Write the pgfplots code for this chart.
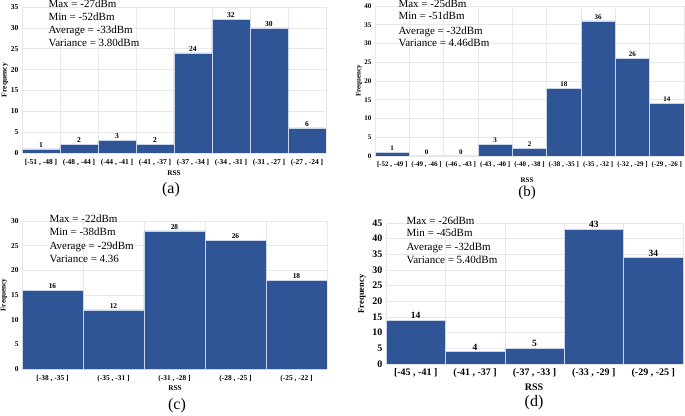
\documentclass[border=0pt]{standalone}
\usepackage{pgfplots}
\pgfplotsset{compat=1.18}
\usepackage{fontspec}
\setmainfont{Liberation Serif}
\definecolor{barblue}{RGB}{47,85,151}
\definecolor{barline}{RGB}{200,212,232}
\definecolor{gridc}{RGB}{232,232,232}
\pgfplotsset{
  panel/.style={
    ybar, bar width=1, scale only axis, anchor=south west,
    ymin=0, enlargelimits=false,
    axis line style={draw=gridc},
    ymajorgrids, xminorgrids,
    major grid style={draw=gridc, line width=0.6pt},
    minor grid style={draw=gridc, line width=0.6pt},
    major tick length=0pt, minor tick length=0pt,
    tick style={draw=none},
    xtick=data,
    /pgf/number format/assume math mode=true,
    nodes near coords,
  },
  barstyle/.style={fill=barblue, draw=barline, line width=0.5pt},
}
\begin{document}
\begin{tikzpicture}[x=1pt,y=1pt]
\path[use as bounding box] (0,0) rectangle (685,415);

% ---------------- (a)
\begin{axis}[panel, at={(22pt,262pt)}, width=304pt, height=146pt,
  xmin=-0.5, xmax=7.5, ymax=35, ytick={0,5,...,35},
  minor xtick={-0.5,0.5,...,7.5},
  xticklabels={{[-51 , -48 ]},{(-48 , -44 ]},{(-44 , -41 ]},{(-41 , -37 ]},{(-37 , -34 ]},{(-34 , -31 ]},{(-31 , -27 ]},{(-27 , -24 ]}},
  xticklabel style={font=\fontsize{7.5}{8}\selectfont\bfseries, yshift=-2.5pt},
  yticklabel style={font=\fontsize{7.5}{8}\selectfont\bfseries},
  every node near coord/.append style={font=\fontsize{7.5}{8}\selectfont\bfseries, inner sep=1.5pt},
]
\addplot[barstyle] coordinates {(0,1) (1,2) (2,3) (3,2) (4,24) (5,32) (6,30) (7,6)};
\end{axis}
\begin{scope}[font=\fontsize{11}{13}\selectfont]
\node[anchor=mid west] at (45,410) {Max = -27dBm};
\node[anchor=mid west] at (45,397) {Min = -52dBm};
\node[anchor=mid west] at (45,384) {Average = -33dBm};
\node[anchor=mid west] at (45,371) {Variance = 3.80dBm};
\end{scope}
\node[rotate=90, font=\fontsize{7.5}{8}\selectfont\bfseries] at (5,335) {Frequency};
\node[font=\fontsize{7.3}{8}\selectfont\bfseries] at (174,242) {RSS};
\node[font=\fontsize{16}{18}\selectfont] at (171,225) {(a)};

% ---------------- (b)
\begin{axis}[panel, at={(375pt,259pt)}, width=309pt, height=150pt,
  xmin=-0.5, xmax=8.5, ymax=40, ytick={0,5,...,40},
  minor xtick={-0.5,0.5,...,8.5},
  xticklabels={{[-52 , -49 ]},{(-49 , -46 ]},{(-46 , -43 ]},{(-43 , -40 ]},{(-40 , -38 ]},{(-38 , -35 ]},{(-35 , -32 ]},{(-32 , -29 ]},{(-29 , -26 ]}},
  xticklabel style={font=\fontsize{7}{8}\selectfont\bfseries, yshift=-2pt},
  yticklabel style={font=\fontsize{7}{8}\selectfont\bfseries},
  every node near coord/.append style={font=\fontsize{7}{8}\selectfont\bfseries, inner sep=1.5pt},
]
\addplot[barstyle] coordinates {(0,1) (1,0) (2,0) (3,3) (4,2) (5,18) (6,36) (7,26) (8,14)};
\end{axis}
\begin{scope}[font=\fontsize{11}{13}\selectfont]
\node[anchor=mid west] at (395,410) {Max = -25dBm};
\node[anchor=mid west] at (395,398) {Min = -51dBm};
\node[anchor=mid west] at (395,383) {Average = -32dBm};
\node[anchor=mid west] at (395,371) {Variance = 4.46dBm};
\end{scope}
\node[rotate=90, font=\fontsize{7}{8}\selectfont\bfseries] at (359,334) {Frequency};
\node[font=\fontsize{7}{8}\selectfont\bfseries, inner sep=0.5pt] at (527,234.5) {RSS};
\node[font=\fontsize{15}{16}\selectfont, inner sep=0pt] at (527,222) {(b)};

% ---------------- (c)
\begin{axis}[panel, at={(22pt,46pt)}, width=305pt, height=148pt,
  xmin=-0.5, xmax=4.5, ymax=30, ytick={0,5,...,30},
  minor xtick={-0.5,0.5,...,4.5},
  xticklabels={{[-38 , -35 ]},{(-35 , -31 ]},{(-31 , -28 ]},{(-28 , -25 ]},{(-25 , -22 ]}},
  xticklabel style={font=\fontsize{7.4}{8}\selectfont\bfseries, yshift=-3pt},
  yticklabel style={font=\fontsize{7.4}{8}\selectfont\bfseries},
  every node near coord/.append style={font=\fontsize{7.4}{8}\selectfont\bfseries, inner sep=1.5pt},
]
\addplot[barstyle] coordinates {(0,16) (1,12) (2,28) (3,26) (4,18)};
\end{axis}
\begin{scope}[font=\fontsize{11}{13}\selectfont]
\node[anchor=mid west] at (46,195) {Max = -22dBm};
\node[anchor=mid west] at (46,182) {Min = -38dBm};
\node[anchor=mid west] at (46,168) {Average = -29dBm};
\node[anchor=mid west] at (46,155) {Variance = 4.36};
\end{scope}
\node[rotate=90, font=\fontsize{7.3}{8}\selectfont\bfseries] at (4,120) {Frequency};
\node[font=\fontsize{7.3}{8}\selectfont\bfseries] at (175,27) {RSS};
\node[font=\fontsize{16}{18}\selectfont] at (177,9) {(c)};

% ---------------- (d)
\begin{axis}[panel, at={(386pt,51pt)}, width=297pt, height=141pt,
  xmin=-0.5, xmax=4.5, ymax=45, ytick={0,5,...,45},
  minor xtick={-0.5,0.5,...,4.5},
  xticklabels={{[-45 , -41 ]},{(-41 , -37 ]},{(-37 , -33 ]},{(-33 , -29 ]},{(-29 , -25 ]}},
  xticklabel style={font=\fontsize{10}{11}\selectfont\bfseries, yshift=-1.5pt},
  yticklabel style={font=\fontsize{10}{11}\selectfont\bfseries},
  every node near coord/.append style={font=\fontsize{9.5}{10}\selectfont\bfseries, inner sep=1pt},
]
\addplot[barstyle] coordinates {(0,14) (1,4) (2,5) (3,43) (4,34)};
\end{axis}
\begin{scope}[font=\fontsize{11}{13}\selectfont]
\node[anchor=mid west] at (403,193) {Max = -26dBm};
\node[anchor=mid west] at (403,181) {Min = -45dBm};
\node[anchor=mid west] at (403,167) {Average = -32dBm};
\node[anchor=mid west] at (403,154) {Variance = 5.40dBm};
\end{scope}
\node[rotate=90, font=\fontsize{8.5}{9}\selectfont\bfseries] at (362,121) {Frequency};
\node[font=\fontsize{10}{11}\selectfont\bfseries] at (534,28) {RSS};
\node[font=\fontsize{16}{18}\selectfont] at (534,12) {(d)};
\end{tikzpicture}
\end{document}
